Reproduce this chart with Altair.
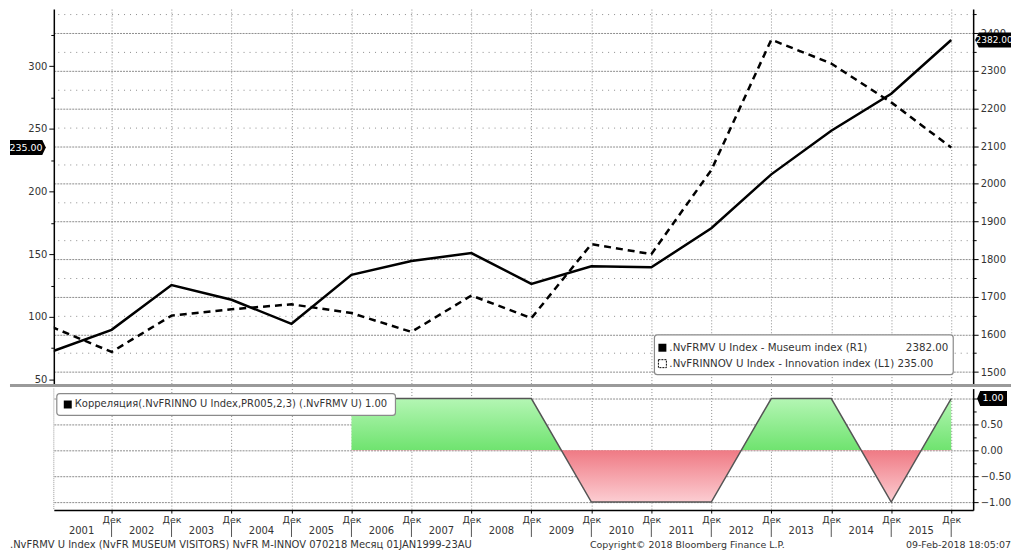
import altair as alt
import pandas as pd

# ---------------- data ----------------
years = list(range(2000, 2016))
museum = [1554, 1612, 1731, 1692, 1628, 1758, 1795, 1816, 1734, 1781, 1778, 1882, 2025, 2141, 2239, 2382]
innovation = [92, 72, 101, 106, 110, 103, 88, 117, 99, 158, 150, 217, 321, 302, 271, 235]
corr_years = list(range(2005, 2016))
correlation = [1, 1, 1, 1, -1, -1, -1, 1, 1, -1, 1]
label_years = list(range(2001, 2016))
dec_label = "Дек"
museum_name = ".NvFRMV U Index - Museum index (R1)"
innov_name = ".NvFRINNOV U Index - Innovation index (L1)"
corr_name = "Корреляция(.NvFRINNO U Index,PR005,2,3) (.NvFRMV U)"
footer_left = ".NvFRMV U Index (NvFR MUSEUM VISITORS) NvFR M-INNOV 070218  Месяц 01JAN1999-23AU"
footer_mid = "Copyright© 2018 Bloomberg Finance L.P."
footer_right = "09-Feb-2018 18:05:07"

# ---------------- layout / style ----------------
W, H1, H2 = 923, 378, 122
FONT = "DejaVu Sans"
TXT = "#333333"
GRID = "#8c8c8c"
FS = 9.5
LFS = 10.3

main_df = pd.DataFrame({"year": years, "museum": museum, "innovation": innovation})
corr_df = pd.DataFrame({"year": corr_years, "corr": correlation})
yl_df = pd.DataFrame({"year": label_years, "label": [str(y) for y in label_years]})
one = pd.DataFrame({"k": [0]})

dec_ticks = [y + 1 for y in label_years]  # year-end (December) positions
x_scale = alt.Scale(domain=[2001.037, 2016.366], nice=False, zero=False)

# ---------------- top panel ----------------
x_top = alt.X("t:Q", scale=x_scale, title=None,
              axis=alt.Axis(values=dec_ticks, labels=False, ticks=False, domain=False,
                            grid=True, gridDash=[1, 2], gridColor=GRID, minExtent=0, maxExtent=0))

left_scale = alt.Scale(domain=[45.2, 345.4], nice=False, zero=False)
left_axis = alt.Axis(orient="left", values=list(range(50, 326, 25)),
                     labelExpr="datum.value % 50 == 0 ? datum.label : ''", format="d",
                     tickSize={"condition": {"test": "datum.value % 50 == 0", "value": 5}, "value": 3},
                     tickColor="black", domainColor="black", domainWidth=1.5,
                     labelColor=TXT, labelFontSize=10, labelPadding=2, grid=False, title=None)

right_scale = alt.Scale(domain=[1464, 2464], nice=False, zero=False)
right_axis = alt.Axis(orient="right", values=list(range(1500, 2451, 50)),
                      labelExpr="datum.value % 100 == 0 ? datum.label : ''", format="d",
                      tickSize={"condition": {"test": "datum.value % 100 == 0", "value": 5}, "value": 3},
                      tickColor="black", domainColor="black", domainWidth=1.5,
                      labelColor=TXT, labelFontSize=10, labelPadding=2,
                      grid=True, gridColor=GRID,
                      gridDash={"condition": {"test": "datum.value % 100 == 0", "value": [2, 1]}, "value": [1, 5]},
                      title=None)

innov_line = alt.Chart(main_df).transform_calculate(t="datum.year + 1").mark_line(
    color="black", strokeWidth=2.5, strokeDash=[7, 5], clip=True
).encode(x=x_top, y=alt.Y("innovation:Q", scale=left_scale, axis=left_axis))

ltag_df = pd.DataFrame({"v": [innovation[-1]], "label": [f"{innovation[-1]:.2f}"]})
ltag = alt.Chart(ltag_df).mark_point(
    shape="M-1,-0.42 L0.8,-0.42 L1,0 L0.8,0.42 L-1,0.42 Z", filled=True, color="black",
    opacity=1, size=1296
).encode(x=alt.value(-26), y=alt.Y("v:Q", scale=left_scale, axis=left_axis))
ltag_txt = alt.Chart(ltag_df).mark_text(color="white", fontSize=FS, baseline="middle").encode(
    x=alt.value(-28), y=alt.Y("v:Q", scale=left_scale, axis=left_axis), text="label:N")

left_group = alt.layer(innov_line, ltag, ltag_txt)

museum_line = alt.Chart(main_df).transform_calculate(t="datum.year + 1").mark_line(
    color="black", strokeWidth=2.5, clip=True
).encode(x=x_top, y=alt.Y("museum:Q", scale=right_scale, axis=right_axis))

rtag_df = pd.DataFrame({"v": [museum[-1]], "label": [f"{museum[-1]:.2f}"]})
rtag = alt.Chart(rtag_df).mark_point(
    shape="M-1,0 L-0.8,-0.42 L1,-0.42 L1,0.42 L-0.8,0.42 Z", filled=True, color="black",
    opacity=1, size=1296
).encode(x=alt.value(W + 20), y=alt.Y("v:Q", scale=right_scale, axis=right_axis))
rtag_txt = alt.Chart(rtag_df).mark_text(color="white", fontSize=FS - 0.5, baseline="middle").encode(
    x=alt.value(W + 21), y=alt.Y("v:Q", scale=right_scale, axis=right_axis), text="label:N")

leg_box = alt.Chart(one).mark_rect(fill="white", stroke="#8a8a8a", strokeWidth=1.2, cornerRadius=3).encode(
    x=alt.value(603), x2=alt.value(903), y=alt.value(327), y2=alt.value(367))
leg_sym1 = alt.Chart(one).mark_rect(color="black").encode(
    x=alt.value(607), x2=alt.value(615), y=alt.value(336), y2=alt.value(344))
leg_sym2 = alt.Chart(one).mark_rect(fillOpacity=0, stroke="black", strokeWidth=1, strokeDash=[2, 1]).encode(
    x=alt.value(607), x2=alt.value(615), y=alt.value(352), y2=alt.value(360))
leg_t1 = alt.Chart(one).mark_text(align="left", baseline="middle", fontSize=LFS, color=TXT).encode(
    x=alt.value(618), y=alt.value(340), text=alt.value(museum_name))
leg_v1 = alt.Chart(one).mark_text(align="right", baseline="middle", fontSize=LFS, color=TXT).encode(
    x=alt.value(898), y=alt.value(340), text=alt.value(f"{museum[-1]:.2f}"))
leg_t2 = alt.Chart(one).mark_text(align="left", baseline="middle", fontSize=LFS, color=TXT).encode(
    x=alt.value(618), y=alt.value(356), text=alt.value(f"{innov_name} {innovation[-1]:.2f}"))

separator = alt.Chart(one).mark_rule(color="#9a9a9a", strokeWidth=3).encode(
    x=alt.value(-44), x2=alt.value(W + 38), y=alt.value(H1))

right_group = alt.layer(museum_line, rtag, rtag_txt, leg_box, leg_sym1, leg_sym2, leg_t1, leg_v1, leg_t2, separator)

top = alt.layer(left_group, right_group).resolve_scale(y="independent").properties(width=W, height=H1)

# ---------------- bottom panel ----------------
x_bot_axis = alt.Axis(values=dec_ticks, labelExpr=f"'{dec_label}'", tickSize=3, labelPadding=1,
                      grid=True, gridDash=[1, 2], gridColor=GRID, domainColor="black", domainWidth=1.5,
                      tickColor="black", labelColor=TXT, labelFontSize=FS)
x_bot = alt.X("t:Q", scale=x_scale, title=None, axis=x_bot_axis)

yb_scale = alt.Scale(domain=[-1.154, 1.192], nice=False, zero=False)
yb_axis = alt.Axis(orient="right", values=[-1, -0.75, -0.5, -0.25, 0, 0.25, 0.5, 0.75, 1], format=".2f",
                   labelExpr="abs(datum.value * 2 - round(datum.value * 2)) < 0.01 ? datum.label : ''",
                   tickSize={"condition": {"test": "abs(datum.value * 2 - round(datum.value * 2)) < 0.01", "value": 5}, "value": 3},
                   tickColor="black", domainColor="black", domainWidth=1.5,
                   labelColor=TXT, labelFontSize=10, labelPadding=2,
                   grid=True, gridColor=GRID, gridDash=[2, 1],
                   gridOpacity={"condition": {"test": "abs(datum.value * 2 - round(datum.value * 2)) < 0.01", "value": 1}, "value": 0},
                   title=None)

grad = alt.Gradient(
    gradient="linear", x1=0, x2=0, y1=0, y2=1,
    stops=[alt.GradientStop(color="#b4f6b4", offset=0),
           alt.GradientStop(color="#6fe36f", offset=0.5),
           alt.GradientStop(color="#ef7a84", offset=0.5),
           alt.GradientStop(color="#fccdd2", offset=1)])

corr_area = alt.Chart(corr_df).transform_calculate(t="datum.year + 1").mark_area(color=grad, clip=True).encode(
    x=x_bot, y=alt.Y("corr:Q", scale=yb_scale, axis=yb_axis), y2=alt.datum(0))
corr_line = alt.Chart(corr_df).transform_calculate(t="datum.year + 1").mark_line(
    color="#555555", strokeWidth=1.5, clip=True
).encode(x=x_bot, y=alt.Y("corr:Q", scale=yb_scale, axis=yb_axis))

btag_df = pd.DataFrame({"v": [correlation[-1]], "label": [f"{correlation[-1]:.2f}"]})
btag = alt.Chart(btag_df).mark_point(
    shape="M-1,0 L-0.8,-0.5 L1,-0.5 L1,0.5 L-0.8,0.5 Z", filled=True, color="black",
    opacity=1, size=900
).encode(x=alt.value(W + 19), y=alt.Y("v:Q", scale=yb_scale, axis=yb_axis))
btag_txt = alt.Chart(btag_df).mark_text(color="white", fontSize=FS, baseline="middle").encode(
    x=alt.value(W + 20), y=alt.Y("v:Q", scale=yb_scale, axis=yb_axis), text="label:N")

left_border = alt.Chart(one).mark_rule(color="#9a9a9a", strokeWidth=1, strokeDash=[1, 1]).encode(
    x=alt.value(0), y=alt.value(0), y2=alt.value(H2))

bleg_box = alt.Chart(one).mark_rect(fill="white", stroke="#8a8a8a", strokeWidth=1.2, cornerRadius=3).encode(
    x=alt.value(3), x2=alt.value(343), y=alt.value(5), y2=alt.value(27))
bleg_sym = alt.Chart(one).mark_rect(color="black").encode(
    x=alt.value(10), x2=alt.value(18), y=alt.value(12), y2=alt.value(20))
bleg_txt = alt.Chart(one).mark_text(align="left", baseline="middle", fontSize=10, color=TXT).encode(
    x=alt.value(21), y=alt.value(16), text=alt.value(f"{corr_name} {correlation[-1]:.2f}"))

year_txt = alt.Chart(yl_df).transform_calculate(t="datum.year + 0.5").mark_text(
    fontSize=10, color=TXT, baseline="middle"
).encode(x=x_bot, y=alt.value(H2 + 21), text="label:N")
year_sep = alt.Chart(yl_df).transform_calculate(t="datum.year + 1").mark_rule(
    color="#555555", strokeWidth=1
).encode(x=x_bot, y=alt.value(H2 + 12), y2=alt.value(H2 + 27))

foot_l = alt.Chart(one).mark_text(align="left", baseline="middle", fontSize=10, color=TXT).encode(
    x=alt.value(-44), y=alt.value(H2 + 35), text=alt.value(footer_left))
foot_m = alt.Chart(one).mark_text(align="center", baseline="middle", fontSize=FS, color=TXT).encode(
    x=alt.value(636), y=alt.value(H2 + 35), text=alt.value(footer_mid))
foot_r = alt.Chart(one).mark_text(align="right", baseline="middle", fontSize=FS, color=TXT).encode(
    x=alt.value(W + 38), y=alt.value(H2 + 35), text=alt.value(footer_right))

bottom = alt.layer(
    corr_area, corr_line, btag, btag_txt, left_border, bleg_box, bleg_sym, bleg_txt,
    year_txt, year_sep, foot_l, foot_m, foot_r
).properties(width=W, height=H2)

chart = alt.vconcat(top, bottom, spacing=0).properties(padding=0).configure(
    font=FONT
).configure_view(stroke=None)

chart.save("out.html", embed_options={"renderer": "svg", "actions": False})
